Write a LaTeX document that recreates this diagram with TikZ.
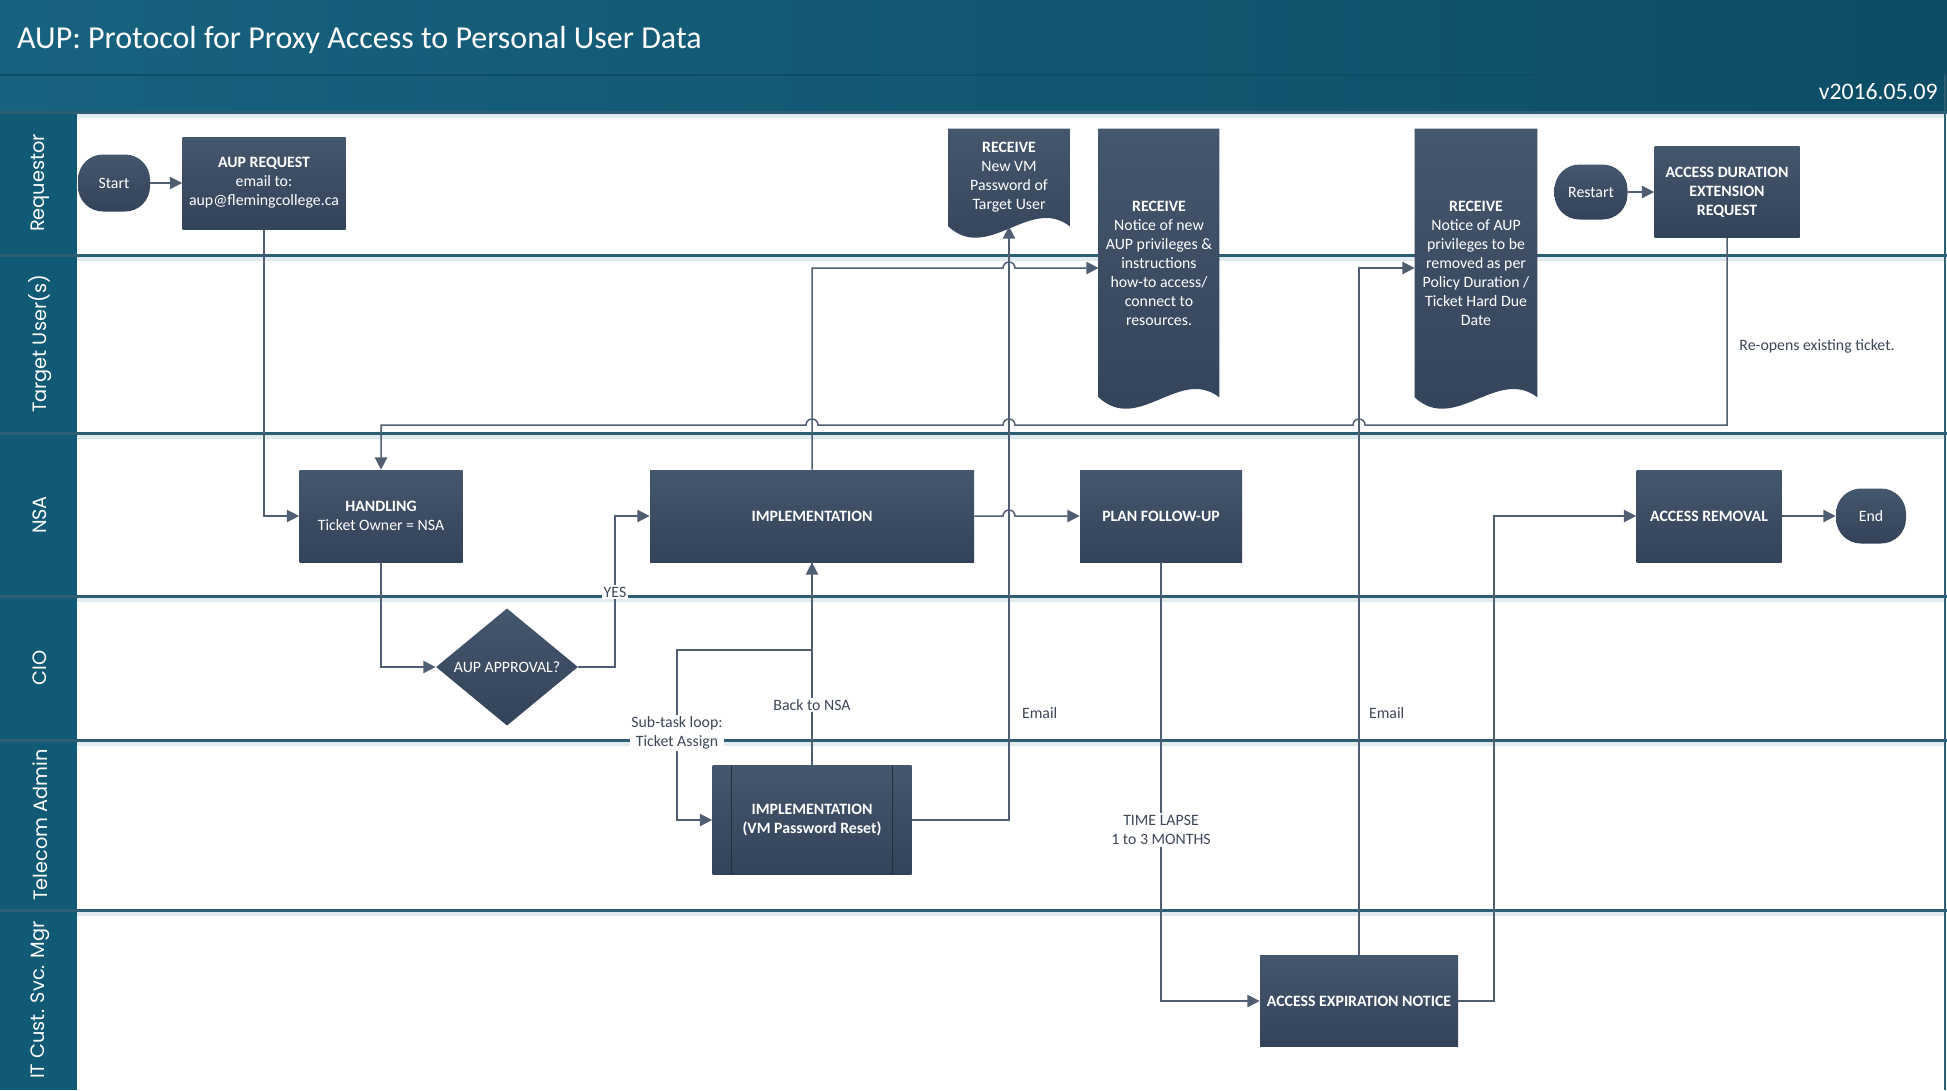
\documentclass[tikz,border=0pt]{standalone}
\usepackage{fontspec}
\setmainfont{Carlito}
\newfontfamily\lanefont{Poppins}
\usetikzlibrary{arrows.meta,shapes.geometric}

\definecolor{bandA}{HTML}{17627F}
\definecolor{bandB}{HTML}{0D4D66}
\definecolor{laneteal}{HTML}{115A76}
\definecolor{sepline}{HTML}{2C5E74}
\definecolor{sepshadow}{HTML}{E1EAEF}
\definecolor{boxtop}{HTML}{45576C}
\definecolor{boxbot}{HTML}{33435A}
\definecolor{wire}{HTML}{4F5E70}
\definecolor{notegray}{HTML}{3D4757}

\newdimen\unitpx
\unitpx=0.02cm

\pgfdeclarelayer{lanes}
\pgfdeclarelayer{docs}
\pgfsetlayers{lanes,docs,main}

\begin{document}
\begin{tikzpicture}[x=0.02cm, y=-0.02cm,
    box/.style={rectangle, top color=boxtop, bottom color=boxbot, text=white, align=center, inner sep=0pt, font=\fontsize{9}{10.8}\selectfont},
    boldbox/.style={box, font=\fontsize{9}{10.8}\selectfont\bfseries},
    term/.style={box, rounded corners=0.5cm},
    decide/.style={diamond, top color=boxtop, bottom color=boxbot, text=white, inner sep=0pt, font=\fontsize{9}{10.8}\selectfont},
    doc/.style={rectangle, text=white, align=center, inner sep=0pt, font=\fontsize{9}{10.8}\selectfont},
    flow/.style={draw=wire, line width=0.85pt, -{Triangle[length=7pt,width=7pt]}},
    note/.style={text=notegray, align=center, inner sep=1pt, font=\fontsize{9}{11}\selectfont},
    lane/.style={text=white, rotate=90, font=\lanefont\fontsize{11}{13}\selectfont},
    sep/.style={draw=sepline, line width=1.7pt}]

\useasboundingbox (0,0) rectangle (1947,1090);

% swimlanes and header
\begin{pgfonlayer}{lanes}
\fill[white] (0,0) rectangle (1947,1090);
\shade[left color=bandA, right color=bandB] (0,0) rectangle (1947,75);
\shade[left color=bandA, right color=bandB] (0,75) rectangle (1947,112);
\draw[draw=bandB, line width=1.2pt] (0,75) -- (1947,75);
\fill[laneteal] (0,112) rectangle (77,1090);
\foreach \y in {112,255,433,596,740,910}
{
\draw[sepshadow, line width=2.5pt] (77,\y+4) -- (1945,\y+4);
\draw[sep] (0,\y) -- (1947,\y);
}
\draw[draw=sepline, line width=1pt] (1945,75) -- (1945,1090);
\end{pgfonlayer}

\node[anchor=west, text=white, font=\fontsize{18.2}{20}\selectfont] (title) at (11,40) {AUP: Protocol for Proxy Access to Personal User Data};
\node[anchor=east, text=white, inner sep=0pt, font=\fontsize{13.5}{15}\selectfont] (version) at (1938,92) {v2016.05.09};

\node[lane] (lreq) at (40,183) {Requestor};
\node[lane] (ltar) at (40,344) {Target User(s)};
\node[lane] (lnsa) at (40,515) {NSA};
\node[lane] (lcio) at (40,668) {CIO};
\node[lane] (ltel) at (40,825) {Telecom Admin};
\node[lane] (lmgr) at (40,1000) {IT Cust. Svc. Mgr};

% process steps
\node[term, minimum width=72\unitpx, minimum height=57\unitpx] (start) at (114,183) {Start};
\node[box, minimum width=163\unitpx, minimum height=92\unitpx] (req) at (264,183) {\textbf{AUP REQUEST}\\email to:\\aup@flemingcollege.ca};
\node[box, minimum width=163\unitpx, minimum height=92\unitpx] (hand) at (381,516) {\textbf{HANDLING}\\Ticket Owner = NSA};
\node[decide, minimum width=142\unitpx, minimum height=106\unitpx] (appr) at (507,667) {AUP APPROVAL?};
\node[boldbox, minimum width=324\unitpx, minimum height=92\unitpx] (impl) at (812,516) {IMPLEMENTATION};
\node[boldbox, minimum width=199\unitpx, minimum height=109\unitpx] (timpl) at (812,820) {IMPLEMENTATION\\(VM Password Reset)};
\draw[boxbot!70!black, line width=0.6pt] ([xshift=19\unitpx]timpl.north west) -- ([xshift=19\unitpx]timpl.south west);
\draw[boxbot!70!black, line width=0.6pt] ([xshift=-19\unitpx]timpl.north east) -- ([xshift=-19\unitpx]timpl.south east);

\node[doc, minimum width=121\unitpx, minimum height=97\unitpx] (recvm) at (1009,177.5) {\textbf{RECEIVE}\\New VM\\Password of\\Target User};
\node[doc, minimum width=120\unitpx, minimum height=268\unitpx] (recn) at (1159,263) {\textbf{RECEIVE}\\Notice of new\\AUP privileges \&\\instructions\\how-to access/\\connect to\\resources.};
\node[doc, minimum width=122\unitpx, minimum height=268\unitpx] (reca) at (1476,263) {\textbf{RECEIVE}\\Notice of AUP\\privileges to be\\removed as per\\Policy Duration /\\Ticket Hard Due\\Date};
\begin{pgfonlayer}{docs}
\foreach \d in {recvm,recn,reca}
  \shade[top color=boxtop, bottom color=boxbot] (\d.north west) -- (\d.north east) -- (\d.south east) .. controls +(-40,-31) and +(40,37) .. (\d.south west) -- cycle;
\end{pgfonlayer}

\node[boldbox, minimum width=162\unitpx, minimum height=92\unitpx] (plan) at (1161,516) {PLAN FOLLOW-UP};
\node[term, minimum width=73\unitpx, minimum height=55\unitpx] (restart) at (1591,192) {Restart};
\node[boldbox, minimum width=145\unitpx, minimum height=91\unitpx] (adr) at (1727,192) {ACCESS DURATION\\EXTENSION\\REQUEST};
\node[boldbox, minimum width=145\unitpx, minimum height=92\unitpx] (rem) at (1709,516) {ACCESS REMOVAL};
\node[term, minimum width=70\unitpx, minimum height=55\unitpx] (endn) at (1871,516) {End};
\node[boldbox, minimum width=198\unitpx, minimum height=91\unitpx] (expn) at (1359,1001) {ACCESS EXPIRATION NOTICE};

% connectors
\draw[flow] (start.east) -- (req.west);
\draw[flow] (req.south) |- (hand.west);
\draw[flow] (hand.south) |- (appr.west);
\draw[flow] (appr.east) -| (615,516) -- (impl.west);
\draw[flow] (impl.north) -- (impl.north |- 0,268) -- (1003,268) arc (180:360:6) -- (recn.west |- 0,268);
\draw[flow] (impl.east) -- (1003,516) arc (180:360:6) -- (plan.west);
\draw[flow] (impl.south) -- (impl.south |- 0,650) -- (677,650) |- (timpl.west);
\draw[flow] (timpl.north) -- (impl.south);
\draw[flow] (timpl.east) -| (recvm.south);
\draw[flow] (plan.south) |- (expn.west);
\draw[flow] (expn.north) -- (expn.north |- 0,268) -- (reca.west |- 0,268);
\draw[flow] (expn.east) -| (1494,516) -- (rem.west);
\draw[flow] (rem.east) -- (endn.west);
\draw[flow] (restart.east) -- (adr.west);
\draw[flow] (adr.south) -- (adr.south |- 0,425) -- (1365,425) arc (0:-180:6) -- (1015,425) arc (0:-180:6) -- (818,425) arc (0:-180:6) -- (hand.north |- 0,425) -- (hand.north);

% connector labels
\node[note, fill=white] (yes) at (615,592) {YES};
\node[note, fill=white] (subtask) at (677,733) {Sub-task loop:\\Ticket Assign};
\node[note, fill=white] (back) at (812,705) {Back to NSA};
\node[note, anchor=west] (mail1) at (1020,713) {Email};
\node[note, anchor=west] (mail2) at (1367,713) {Email};
\node[note, fill=white] (lapse) at (1161,830) {TIME LAPSE\\1 to 3 MONTHS};
\node[note] (reopen) at (1817,346) {Re-opens existing ticket.};
\end{tikzpicture}
\end{document}
